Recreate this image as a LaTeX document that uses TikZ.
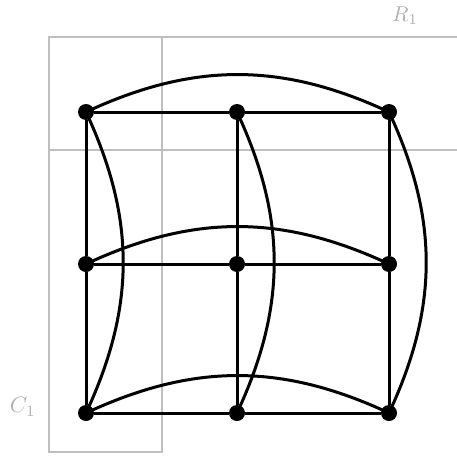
\documentclass[tikz,border=0pt]{standalone}
\begin{document}
\begin{tikzpicture}[x=1pt,y=-1pt,
  vert/.style={circle,fill=black,inner sep=0pt,minimum size=16pt},
  edge/.style={line width=3pt},
  grp/.style={draw=black!25,line width=1.3pt},
  lab/.style={text=black!30,inner sep=0pt}]
\useasboundingbox (0,0) rectangle (457,455);
\draw[grp] (49,37) rectangle (470,150);
\draw[grp] (49,37) rectangle (162,452);
\node[lab] (r1) at (405,16) {\resizebox{26pt}{!}{$R_1$}};
\node[lab] (c1) at (23,407) {\resizebox{26pt}{!}{$C_1$}};
\foreach \i/\x in {1/86,2/237,3/389}
  \foreach \j/\y in {1/112,2/264,3/413}
    \node[vert] (v\i\j) at (\x,\y) {};
\foreach \j in {1,2,3}{
  \draw[edge] (v1\j) -- (v2\j) -- (v3\j);
  \draw[edge] (v\j1) -- (v\j2) -- (v\j3);
  \draw[edge] (v1\j.center) to[bend left=25] (v3\j.center);
  \draw[edge] (v\j1.center) to[bend left=25] (v\j3.center);
}
\end{tikzpicture}
\end{document}
